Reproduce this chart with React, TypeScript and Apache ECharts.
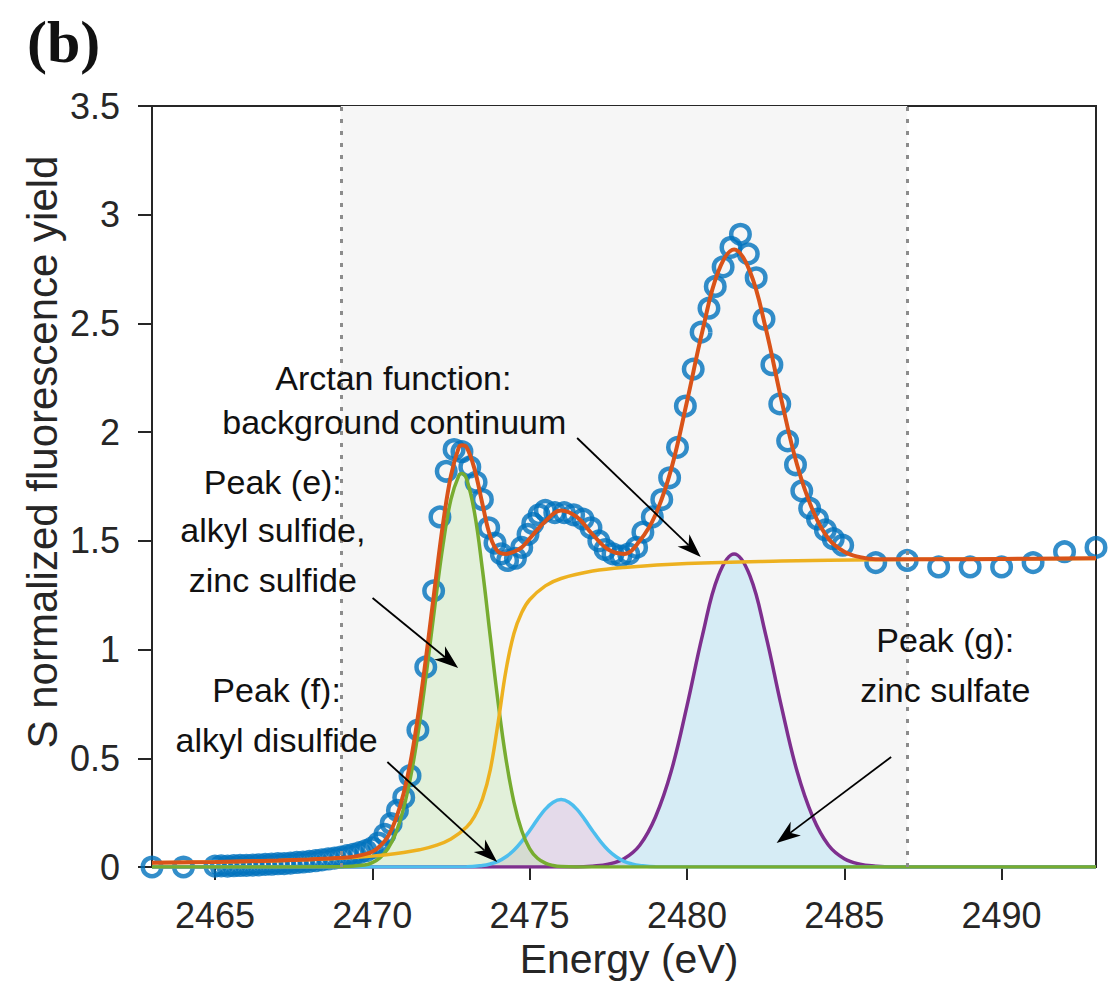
import React, { useEffect, useRef } from "react";
import * as echarts from "echarts";

const FONT = '"Liberation Sans", Arial, Helvetica, sans-serif';

// ---------- axis ticks ----------
const xTicks = [2465, 2470, 2475, 2480, 2485, 2490];
const shadedRange = [2469, 2487];

// ---------- measured data (circles) ----------
const dataEnergy = [
  2463, 2464,
  2465.0, 2465.2, 2465.4, 2465.6, 2465.8, 2466.0, 2466.2, 2466.4, 2466.6, 2466.8,
  2467.0, 2467.2, 2467.4, 2467.6, 2467.8, 2468.0, 2468.2, 2468.4, 2468.6, 2468.8,
  2469.0, 2469.2, 2469.4, 2469.6, 2469.8, 2470.0, 2470.2, 2470.4, 2470.6, 2470.8,
  2471.0, 2471.2, 2471.45, 2471.7, 2471.95, 2472.15, 2472.35, 2472.6, 2472.85, 2473.1,
  2473.3, 2473.5, 2473.7, 2473.9, 2474.1, 2474.3, 2474.55, 2474.75, 2474.95, 2475.1,
  2475.3, 2475.5, 2475.8, 2476.1, 2476.4, 2476.7, 2476.95, 2477.2, 2477.4, 2477.65,
  2477.9, 2478.15, 2478.4, 2478.6, 2478.9, 2479.2, 2479.45, 2479.7, 2479.95, 2480.2,
  2480.45, 2480.7, 2480.9, 2481.15, 2481.4, 2481.7, 2481.95, 2482.2, 2482.45, 2482.7,
  2482.95, 2483.2, 2483.45, 2483.65, 2483.9, 2484.15, 2484.4, 2484.65, 2484.95,
  2486, 2487, 2488, 2489, 2490, 2491, 2492, 2493,
];
const dataYield = [
  0.0, 0.0,
  0.004, 0.005, 0.004, 0.006, 0.007, 0.008, 0.009, 0.01, 0.012, 0.013,
  0.015, 0.016, 0.018, 0.021, 0.023, 0.026, 0.029, 0.033, 0.037, 0.041,
  0.046, 0.052, 0.058, 0.066, 0.075, 0.088, 0.11, 0.15, 0.2, 0.26,
  0.32, 0.42, 0.63, 0.92, 1.27, 1.61, 1.82, 1.92, 1.91, 1.84,
  1.77, 1.69, 1.56, 1.49, 1.44, 1.41, 1.42, 1.47, 1.53, 1.58,
  1.62, 1.64, 1.63, 1.63, 1.62, 1.6, 1.56, 1.5, 1.46, 1.44,
  1.43, 1.44, 1.47, 1.54, 1.61, 1.69, 1.79, 1.93, 2.12, 2.29,
  2.46, 2.57, 2.67, 2.76, 2.85, 2.91, 2.82, 2.71, 2.52, 2.31,
  2.13, 1.96, 1.85, 1.73, 1.65, 1.6, 1.55, 1.51, 1.48,
  1.4, 1.41, 1.38, 1.38, 1.38, 1.4, 1.45, 1.47,
];

// ---------- total fit (orange) ----------
const fitEnergy = [
  2463, 2465, 2467, 2468, 2469, 2469.5, 2470, 2470.25, 2470.5, 2470.75, 2471, 2471.25,
  2471.5, 2471.75, 2472, 2472.25, 2472.5, 2472.75, 2472.85, 2473, 2473.25, 2473.5,
  2473.75, 2474, 2474.25, 2474.5, 2474.75, 2475, 2475.5, 2476, 2476.5, 2477, 2477.5,
  2478, 2478.5, 2479, 2479.5, 2480, 2480.5, 2481, 2481.5, 2482, 2482.5, 2483, 2483.5,
  2484, 2484.5, 2485, 2485.5, 2486, 2488, 2490, 2493,
];
const fitYield = [
  0.02, 0.023, 0.03, 0.035, 0.042, 0.05, 0.07, 0.097, 0.14, 0.22, 0.34, 0.51,
  0.74, 1.01, 1.3, 1.58, 1.8, 1.93, 1.94, 1.93, 1.83, 1.67,
  1.52, 1.45, 1.44, 1.45, 1.47, 1.51, 1.59, 1.64, 1.61, 1.53, 1.46,
  1.44, 1.5, 1.62, 1.83, 2.14, 2.47, 2.74, 2.84, 2.74, 2.48, 2.15, 1.85,
  1.64, 1.51, 1.45, 1.425, 1.415, 1.415, 1.417, 1.42,
];

// ---------- arctan background (yellow) ----------
const arctanEnergy = [
  2463, 2465, 2467, 2469, 2470, 2471, 2471.5, 2472, 2472.5, 2473, 2473.25, 2473.5,
  2473.75, 2474, 2474.25, 2474.5, 2474.75, 2475, 2475.5, 2476, 2477, 2478, 2480,
  2483, 2486, 2490, 2493,
];
const arctanYield = [
  0.019, 0.023, 0.029, 0.04, 0.05, 0.067, 0.079, 0.098, 0.129, 0.184, 0.233, 0.312,
  0.447, 0.665, 0.905, 1.073, 1.17, 1.229, 1.293, 1.327, 1.361, 1.378, 1.396,
  1.407, 1.413, 1.417, 1.419,
];

// ---------- peak (e) green ----------
const peakEEnergy = [
  2463, 2469, 2469.75, 2470, 2470.25, 2470.5, 2470.75, 2471, 2471.25, 2471.5, 2471.75,
  2472, 2472.25, 2472.5, 2472.75, 2472.85, 2473, 2473.25, 2473.5, 2473.75, 2474,
  2474.25, 2474.5, 2474.75, 2475, 2475.25, 2475.5, 2475.75, 2476, 2476.5, 2493,
];
const peakEYield = [
  0, 0.001, 0.009, 0.02, 0.043, 0.085, 0.157, 0.272, 0.438, 0.659, 0.926,
  1.213, 1.483, 1.691, 1.8, 1.81, 1.783, 1.629, 1.369, 1.06, 0.756,
  0.496, 0.3, 0.167, 0.085, 0.04, 0.018, 0.007, 0.002, 0, 0,
];

// ---------- peak (f) cyan ----------
const peakFEnergy = [
  2463, 2473, 2473.5, 2473.75, 2474, 2474.25, 2474.5, 2474.75, 2475, 2475.25, 2475.5,
  2475.75, 2476, 2476.25, 2476.5, 2476.75, 2477, 2477.25, 2477.5, 2477.75, 2478,
  2478.25, 2478.5, 2479, 2493,
];
const peakFYield = [
  0, 0.001, 0.007, 0.014, 0.026, 0.047, 0.077, 0.118, 0.167, 0.219, 0.266,
  0.298, 0.31, 0.298, 0.266, 0.219, 0.167, 0.118, 0.077, 0.047, 0.026,
  0.014, 0.007, 0.001, 0,
];

// ---------- peak (g) purple ----------
const peakGEnergy = [
  2463, 2476.5, 2477, 2477.5, 2478, 2478.5, 2479, 2479.5, 2480, 2480.5, 2481, 2481.5,
  2482, 2482.5, 2483, 2483.5, 2484, 2484.5, 2485, 2485.5, 2486, 2486.5, 2493,
];
const peakGYield = [
  0, 0, 0.004, 0.013, 0.038, 0.1, 0.23, 0.44, 0.74, 1.07, 1.34, 1.44,
  1.34, 1.07, 0.74, 0.44, 0.23, 0.1, 0.038, 0.013, 0.004, 0, 0,
];

// ---------- annotations (data coordinates) ----------
const annotationTexts = [
  { text: "Arctan function:", x: 2470.67, y: 2.25 },
  { text: "background continuum", x: 2470.7, y: 2.045 },
  { text: "Peak (e):", x: 2466.84, y: 1.771 },
  { text: "alkyl sulfide,", x: 2466.84, y: 1.55 },
  { text: "zinc sulfide", x: 2466.84, y: 1.32 },
  { text: "Peak (f):", x: 2466.96, y: 0.814 },
  { text: "alkyl disulfide", x: 2466.96, y: 0.584 },
  { text: "Peak (g):", x: 2488.21, y: 1.044 },
  { text: "zinc sulfate", x: 2488.21, y: 0.814 },
];
const annotationArrows = [
  { from: [2476.51, 1.973], to: [2480.44, 1.426] },
  { from: [2470.01, 1.237], to: [2472.73, 0.915] },
  { from: [2470.48, 0.483], to: [2473.97, 0.023] },
  { from: [2486.49, 0.506], to: [2482.85, 0.11] },
];

const pairs = (xs: number[], ys: number[]) => xs.map((x, i) => [x, ys[i]]);

const areaSeries = (xs: number[], ys: number[], fill: string, z: number) => ({
  type: "line",
  data: pairs(xs, ys),
  smooth: 0.4,
  showSymbol: false,
  symbol: "none",
  lineStyle: { width: 0, opacity: 0 },
  areaStyle: { color: fill, opacity: 1 },
  silent: true,
  z,
});

const lineSeries = (xs: number[], ys: number[], color: string, width: number, z: number) => ({
  type: "line",
  data: pairs(xs, ys),
  smooth: 0.4,
  showSymbol: false,
  symbol: "none",
  lineStyle: { color, width },
  silent: true,
  z,
});

export default function App() {
  const ref = useRef<HTMLDivElement>(null);

  useEffect(() => {
    document.body.style.margin = "0";
    const chart = echarts.init(ref.current!, null, { renderer: "svg" });

    const option: any = {
      animation: false,
      backgroundColor: "#ffffff",
      grid: {
        left: 152,
        top: 106,
        right: 12,
        bottom: 122,
        show: true,
        borderColor: "#262626",
        borderWidth: 2,
        backgroundColor: "transparent",
      },
      xAxis: {
        type: "value",
        min: 2463,
        max: 2493,
        name: "Energy (eV)",
        nameLocation: "middle",
        nameGap: 71,
        nameTextStyle: { fontSize: 41, color: "#262626", fontFamily: FONT, padding: [0, 0, 0, 10] },
        axisLine: { show: true, onZero: false, lineStyle: { color: "#262626", width: 2 } },
        axisTick: {
          show: true,
          inside: false,
          length: 13,
          customValues: xTicks,
          lineStyle: { color: "#262626", width: 2 },
        },
        axisLabel: {
          customValues: xTicks,
          formatter: (v: number) => String(v),
          fontSize: 36,
          color: "#262626",
          fontFamily: FONT,
          margin: 30,
        },
        splitLine: { show: false },
      },
      yAxis: {
        type: "value",
        min: 0,
        max: 3.5,
        interval: 0.5,
        axisLine: { show: true, onZero: false, lineStyle: { color: "#262626", width: 2 } },
        axisTick: { show: true, inside: false, length: 14, lineStyle: { color: "#262626", width: 2 } },
        axisLabel: {
          formatter: (v: number) => String(v),
          fontSize: 36,
          color: "#262626",
          fontFamily: FONT,
          margin: 32,
        },
        splitLine: { show: false },
      },
      series: [
        {
          type: "line",
          data: [[2463, 0]],
          symbol: "none",
          lineStyle: { opacity: 0 },
          silent: true,
          z: 1,
          markArea: {
            silent: true,
            label: { show: false },
            itemStyle: { color: "#f6f6f6" },
            data: [[{ xAxis: shadedRange[0] }, { xAxis: shadedRange[1] }]],
          },
          markLine: {
            silent: true,
            symbol: ["none", "none"],
            label: { show: false },
            lineStyle: { color: "#8c8c8c", width: 3, type: [4, 8] },
            data: [{ xAxis: shadedRange[0] }, { xAxis: shadedRange[1] }],
          },
        },
        areaSeries(peakGEnergy, peakGYield, "rgba(118,206,242,0.25)", 2),
        areaSeries(peakFEnergy, peakFYield, "rgba(174,134,198,0.25)", 2),
        areaSeries(peakEEnergy, peakEYield, "rgba(166,222,134,0.25)", 2),
        {
          type: "scatter",
          data: pairs(dataEnergy, dataYield),
          symbol: "circle",
          symbolSize: 18.5,
          clip: false,
          silent: true,
          itemStyle: { color: "rgba(0,0,0,0)", borderColor: "#0072BD", borderWidth: 4.5 },
          z: 3,
        },
        lineSeries(peakGEnergy, peakGYield, "#7E2F8E", 3.5, 4),
        lineSeries(peakFEnergy, peakFYield, "#4DBEEE", 3.5, 4),
        lineSeries(peakEEnergy, peakEYield, "#77AC30", 3.5, 4),
        lineSeries(arctanEnergy, arctanYield, "#EDB120", 3.5, 5),
        lineSeries(fitEnergy, fitYield, "#D95319", 4, 6),
      ],
    };
    chart.setOption(option);

    const toPx = (p: number[]) =>
      chart.convertToPixel({ xAxisIndex: 0, yAxisIndex: 0 }, p) as number[];

    const graphics: any[] = [
      {
        type: "text",
        x: 27,
        y: 42,
        style: {
          text: "(b)",
          fontFamily: '"Liberation Serif", "Times New Roman", serif',
          fontWeight: "bold",
          fontSize: 60,
          fill: "#111",
          verticalAlign: "middle",
          align: "left",
        },
        z: 100,
      },
      {
        type: "text",
        x: 42,
        y: 452,
        rotation: Math.PI / 2,
        style: {
          text: "S normalized fluorescence yield",
          fontFamily: FONT,
          fontSize: 42,
          fill: "#262626",
          align: "center",
          verticalAlign: "middle",
        },
        z: 100,
      },
    ];

    annotationTexts.forEach((a) => {
      const [px, py] = toPx([a.x, a.y]);
      graphics.push({
        type: "text",
        x: px,
        y: py,
        style: {
          text: a.text,
          fontFamily: FONT,
          fontSize: 34,
          fill: "#111",
          align: "center",
          verticalAlign: "middle",
        },
        z: 100,
      });
    });

    const L = 24;
    const W = 17;
    const notch = 7;
    annotationArrows.forEach((a) => {
      const [x1, y1] = toPx(a.from);
      const [x2, y2] = toPx(a.to);
      const len = Math.hypot(x2 - x1, y2 - y1);
      const ux = (x2 - x1) / len;
      const uy = (y2 - y1) / len;
      const nx = -uy;
      const ny = ux;
      const bx = x2 - ux * L;
      const by = y2 - uy * L;
      const mx = x2 - ux * (L - notch);
      const my = y2 - uy * (L - notch);
      graphics.push({
        type: "line",
        shape: { x1, y1, x2: mx, y2: my },
        style: { stroke: "#000", lineWidth: 1.8 },
        z: 100,
      });
      graphics.push({
        type: "polygon",
        shape: {
          points: [
            [x2, y2],
            [bx + (nx * W) / 2, by + (ny * W) / 2],
            [mx, my],
            [bx - (nx * W) / 2, by - (ny * W) / 2],
          ],
        },
        style: { fill: "#000" },
        z: 100,
      });
    });

    chart.setOption({ graphic: graphics });

    return () => chart.dispose();
  }, []);

  return <div ref={ref} style={{ width: 1108, height: 989 }} />;
}
